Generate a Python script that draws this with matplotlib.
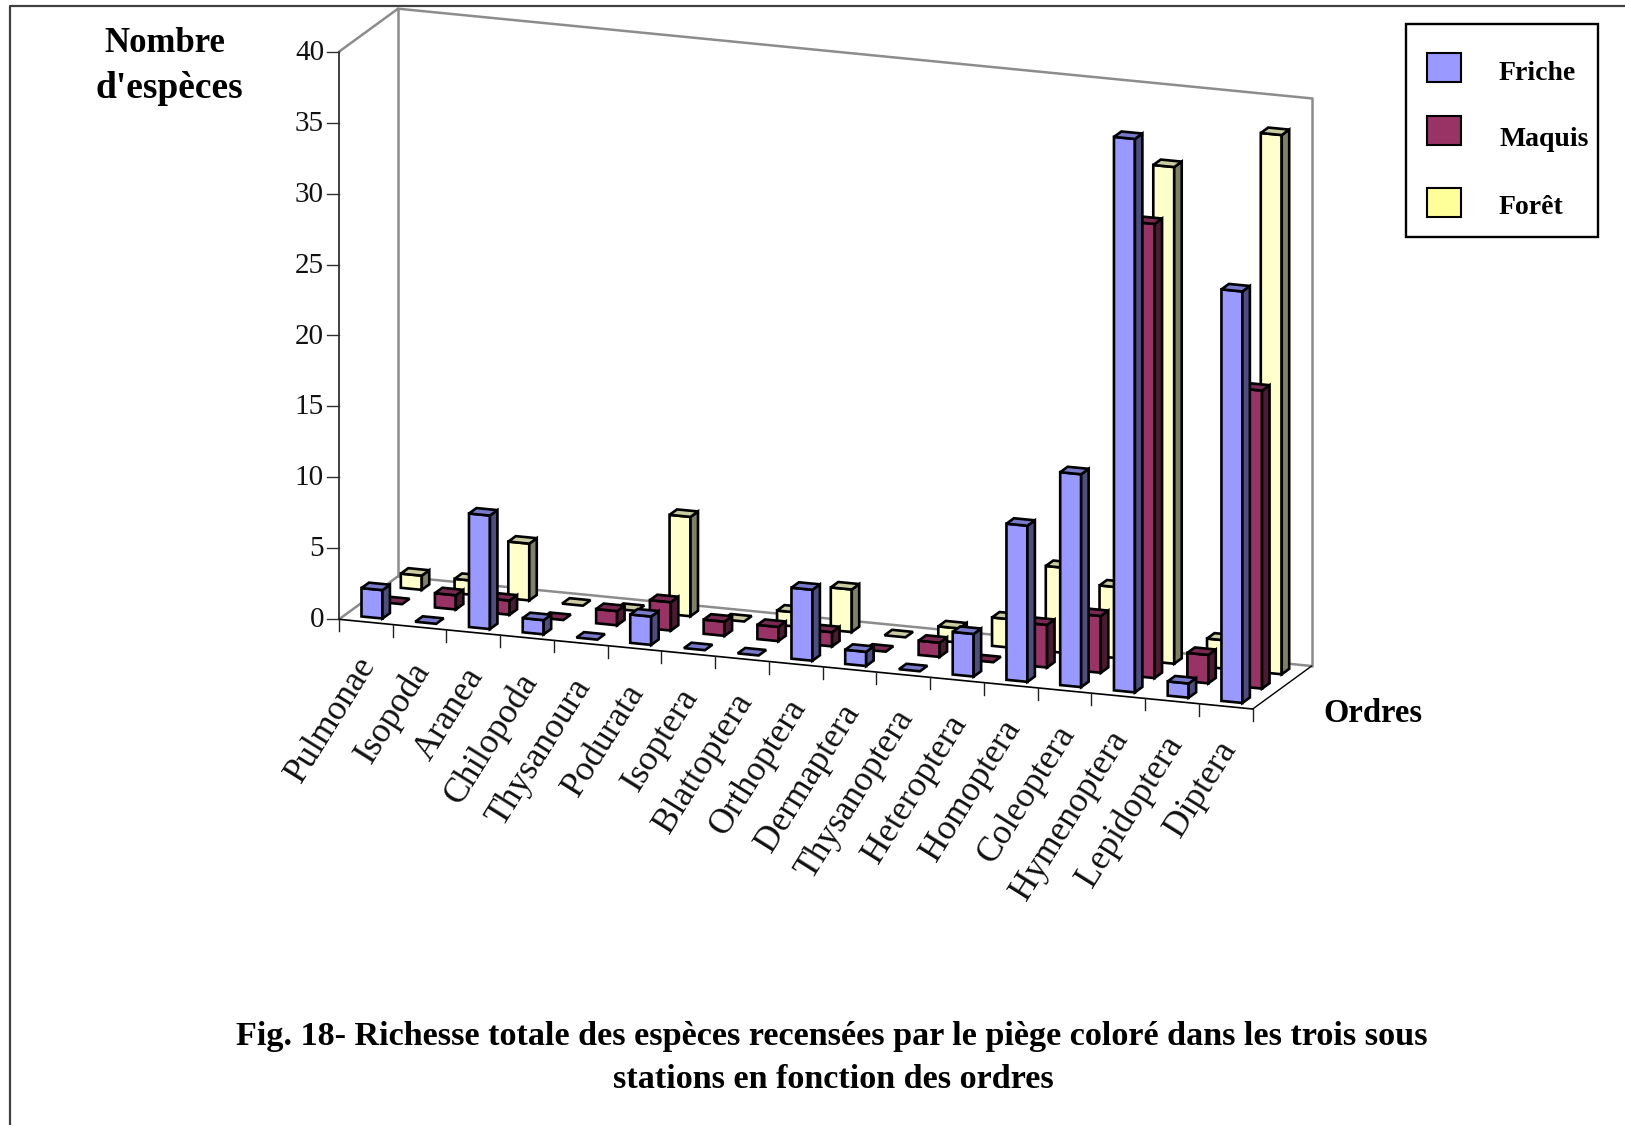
import numpy as np
import matplotlib
matplotlib.use('Agg')
import matplotlib.pyplot as plt
from matplotlib.patches import Rectangle

categories = ['Pulmonae', 'Isopoda', 'Aranea', 'Chilopoda', 'Thysanoura', 'Podurata',
              'Isoptera', 'Blattoptera', 'Orthoptera', 'Dermaptera', 'Thysanoptera',
              'Heteroptera', 'Homoptera', 'Coleoptera', 'Hymenoptera', 'Lepidoptera', 'Diptera']
friche = [2, 0, 8, 1, 0, 2, 0, 0, 5, 1, 0, 3, 11, 15, 39, 1, 29]
maquis = [0, 1, 1, 0, 1, 2, 1, 1, 1, 0, 1, 0, 3, 4, 32, 2, 21]
foret = [1, 1, 4, 0, 0, 7, 0, 1, 3, 0, 1, 2, 6, 5, 35, 2, 38]
z_ticks = [0, 5, 10, 15, 20, 25, 30, 35, 40]

series = [
    ('Friche', friche, '#9999FF', '#7A7ACC', '#4D4D80', '#9999FF'),
    ('Maquis', maquis, '#993366', '#7A2952', '#4D1A33', '#993366'),
    ('Forêt', foret, '#FFFFCC', '#CCCCA3', '#808066', '#FFFF99'),
]

# screen position of the chart box, in pixels
ORIGIN = np.array([339.0, 619.3])
X_VEC = np.array([913.7, 89.7])
D_VEC = np.array([59.0, -43.0])
Z_UNIT = 14.19
BAR_W = 0.39
BAR_D = 0.38


def project(x, d, z):
    # x in categories, d in series rows, z in species
    xy = ORIGIN + X_VEC * x / len(categories) + D_VEC * d / len(series)
    return xy + np.array([0, -Z_UNIT * z])


def draw_bar(ax, i, row, value, front, top, side):
    x0, x1 = i + 0.5 - BAR_W / 2, i + 0.5 + BAR_W / 2
    d0, d1 = row + 0.5 - BAR_D / 2, row + 0.5 + BAR_D / 2
    faces = []
    if value > 0:
        faces.append(([project(x0, d0, 0), project(x1, d0, 0), project(x1, d0, value), project(x0, d0, value)], front))
        faces.append(([project(x1, d0, 0), project(x1, d1, 0), project(x1, d1, value), project(x1, d0, value)], side))
    faces.append(([project(x0, d0, value), project(x1, d0, value), project(x1, d1, value), project(x0, d1, value)], top))
    for pts, color in faces:
        ax.fill(*zip(*pts), facecolor=color, edgecolor='black', linewidth=1.9, joinstyle='miter', zorder=3)


def line(ax, p, q, color='black', lw=1.2):
    ax.plot([p[0], q[0]], [p[1], q[1]], color=color, linewidth=lw, solid_capstyle='round', zorder=2)


plt.rcParams['font.family'] = ['Liberation Serif', 'DejaVu Serif']

fig = plt.figure(figsize=(16.25, 11.25), dpi=100)
ax = fig.add_axes([0, 0, 1, 1])
ax.set_xlim(0, 1625)
ax.set_ylim(1125, 0)
ax.axis('off')

# outer frame of the page
ax.plot([10, 10, 1625], [1125, 5.5, 5.5], color='#404040', linewidth=1.6)

n = len(categories)
m = len(series)
gray = '#8C8C8C'

# walls
line(ax, project(0, 0, 0), project(0, m, 0), gray, 1.8)
line(ax, project(0, m, 0), project(n, m, 0), gray, 1.8)
line(ax, project(0, m, 0), project(0, m, 40), gray, 1.8)
line(ax, project(0, 0, 40), project(0, m, 40), gray, 1.8)
line(ax, project(0, m, 40), project(n, m, 40), gray, 1.8)
line(ax, project(n, m, 0), project(n, m, 40), gray, 1.8)
line(ax, project(n, 0, 0), project(n, m, 0), 'black', 1.0)
line(ax, project(0, 0, 0), project(0, 0, 40), '#303030', 1.3)
line(ax, project(0, 0, 0), project(n, 0, 0), 'black', 1.2)

# value axis
for z in z_ticks:
    p = project(0, 0, z)
    ax.plot([p[0] - 12, p[0]], [p[1], p[1]], color='#303030', linewidth=1.0)
    ax.text(p[0] - 15, p[1] + 1, str(z), ha='right', va='center', fontsize=21, color='#111111')

# category axis
for i in range(n + 1):
    p = project(i, 0, 0)
    ax.plot([p[0], p[0]], [p[1], p[1] + 12], color='#202020', linewidth=1.0)

for i, name in enumerate(categories):
    p = project(i + 0.5, 0, 0)
    ax.text(p[0] + 3, p[1] + 38, name, rotation=58, rotation_mode='anchor',
            ha='right', va='center', fontsize=25.5, color='#111111')

# back row first so the front row covers it
for row in range(m - 1, -1, -1):
    name, values, front, top, side, swatch = series[row]
    for i, value in enumerate(values):
        draw_bar(ax, i, row, value, front, top, side)

# legend
ax.add_patch(Rectangle((1406, 24), 192, 213, facecolor='white', edgecolor='black', linewidth=1.7, zorder=5))
swatch_y = [52.7, 116, 188]
label_y = [73, 140, 208]
for (name, values, front, top, side, swatch), sy, ly in zip(series, swatch_y, label_y):
    ax.add_patch(Rectangle((1427, sy), 34, 29, facecolor=swatch, edgecolor='black', linewidth=1.5, zorder=6))
    ax.text(1499, ly, name, ha='left', va='center', fontsize=20, fontweight='bold', zorder=6)

# axis titles
ax.text(165, 43, 'Nombre', ha='center', va='center', fontsize=25, fontweight='bold')
ax.text(169, 88, "d'espèces", ha='center', va='center', fontsize=27, fontweight='bold')
ax.text(1373, 713, 'Ordres', ha='center', va='center', fontsize=23.5, fontweight='bold')

# caption
ax.text(832, 1037, 'Fig. 18- Richesse totale des espèces recensées par le piège coloré dans les trois sous',
        ha='center', va='center', fontsize=24.6, fontweight='bold')
ax.text(833, 1080, 'stations en fonction des ordres', ha='center', va='center', fontsize=24.6, fontweight='bold')

fig.savefig('out.png', dpi=100)
